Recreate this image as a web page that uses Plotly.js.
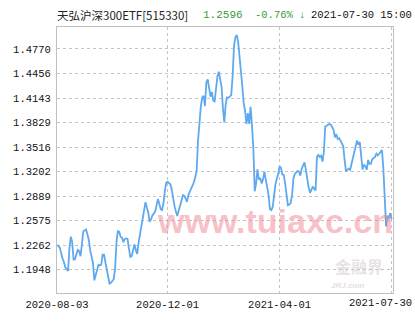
<!DOCTYPE html>
<html>
<head>
<meta charset="utf-8">
<script src="https://cdn.plot.ly/plotly-3.0.1.min.js"></script>
<style>
  html, body { margin: 0; padding: 0; background: #fff; }
  #chart { width: 415px; height: 330px; }
</style>
</head>
<body>
<div id="chart"></div>
<script>
// Fund name and quote header
const fundName = '天弘沪深300ETF[515330]';
const lastPrice = '1.2596';
const changePct = '-0.76% ↓';
const quoteTime = '2021-07-30 15:00';

// Daily closing prices (trading days 2020-08-03 .. 2021-07-30)
const prices = [
  1.2260,1.2252,1.2230,1.2140,1.2090,1.2045,1.1977,1.1955,1.1930,1.2220,
  1.2370,1.2300,1.2075,1.2080,1.2140,1.2200,1.2185,1.2120,1.2270,1.2435,
  1.2450,1.2461,1.2400,1.2330,1.2190,1.2090,1.2040,1.1811,1.1880,1.1935,
  1.2010,1.2000,1.2010,1.2140,1.2140,1.2040,1.1948,1.1860,1.1770,1.1780,
  1.1800,1.1825,1.1960,1.2300,1.2440,1.2430,1.2370,1.2355,1.2300,1.2340,
  1.2346,1.2340,1.2220,1.2110,1.2120,1.2190,1.2270,1.2200,1.2150,1.2290,
  1.2400,1.2500,1.2602,1.2750,1.2810,1.2740,1.2680,1.2560,1.2590,1.2640,
  1.2660,1.2690,1.2770,1.2850,1.2790,1.2720,1.2710,1.2800,1.2950,1.3060,
  1.3070,1.3055,1.3040,1.2970,1.2850,1.2760,1.2690,1.2635,1.2700,1.2751,
  1.2830,1.2901,1.2890,1.2860,1.2815,1.2901,1.2940,1.2985,1.3020,1.3065,
  1.3130,1.3215,1.3600,1.3890,1.4030,1.4150,1.4170,1.4040,1.4340,1.4380,
  1.4260,1.4160,1.4220,1.4110,1.4100,1.4290,1.4420,1.4480,1.4370,1.4290,
  1.4010,1.3830,1.4060,1.4150,1.4145,1.4160,1.4180,1.4420,1.4800,1.4920,
  1.4950,1.4860,1.4633,1.4480,1.4300,1.4080,1.3980,1.3810,1.3949,1.3812,
  1.4030,1.3800,1.3500,1.2950,1.3050,1.3230,1.3100,1.3120,1.3050,1.3100,
  1.3200,1.3100,1.3010,1.2900,1.2720,1.2709,1.2750,1.2930,1.3040,1.3115,
  1.3170,1.3270,1.3250,1.3165,1.3158,1.3050,1.2880,1.2770,1.2780,1.2798,
  1.2900,1.3115,1.3170,1.3190,1.3210,1.3200,1.3150,1.3240,1.3290,1.3320,
  1.3220,1.3080,1.3000,1.2930,1.2980,1.3010,1.2980,1.2960,1.3390,1.3414,
  1.3390,1.3405,1.3330,1.3450,1.3777,1.3785,1.3795,1.3810,1.3805,1.3770,
  1.3735,1.3640,1.3680,1.3620,1.3630,1.3600,1.3560,1.3525,1.3350,1.3205,
  1.3225,1.3240,1.3225,1.3300,1.3400,1.3480,1.3550,1.3600,1.3545,1.3580,
  1.3400,1.3230,1.3290,1.3270,1.3225,1.3350,1.3300,1.3300,1.3360,1.3375,
  1.3390,1.3430,1.3410,1.3430,1.3460,1.3478,1.3250,1.2950,1.2500,1.2640,
  1.2600,1.2670,1.2596
];

// X-axis date labels and the trading-day index they belong to
const dateLabels = ['2020-08-03', '2020-12-01', '2021-04-01', '2021-07-30'];
const dateIndex = [0, 80, 161, 242];

// Y-axis tick values
const yTicks = [1.1948, 1.2262, 1.2575, 1.2889, 1.3202, 1.3516, 1.3829, 1.4143, 1.4456, 1.4770];
const yRange = [1.1649, 1.5051];

const dayIdx = prices.map((_, i) => i);
const lastK = dateLabels.length - 1;
// the last date label is drawn right-aligned at the edge (as in the source chart)
const xText = dateLabels.map((t, k) => k === lastK ? '' : t);

const monoFont = 'Liberation Mono, DejaVu Sans Mono, monospace';

const trace = {
  x: dayIdx,
  y: prices,
  type: 'scatter',
  mode: 'lines',
  line: { color: '#5fa9ee', width: 1.8, shape: 'linear' },
  hoverinfo: 'skip'
};

const layout = {
  width: 415,
  height: 330,
  margin: { l: 57, r: 22, t: 27, b: 37, pad: 0 },
  paper_bgcolor: '#ffffff',
  plot_bgcolor: '#ffffff',
  showlegend: false,
  xaxis: {
    range: [0, 243],
    tickmode: 'array',
    tickvals: dateIndex,
    ticktext: xText,
    ticks: '',
    showgrid: true,
    gridcolor: '#c4c4c4',
    griddash: '3px,3px',
    gridwidth: 1,
    zeroline: false,
    showline: true,
    linecolor: '#c0c0c0',
    linewidth: 1,
    mirror: true,
    tickfont: { family: monoFont, size: 10.5, color: '#111' },
    ticklabelstandoff: 1
  },
  yaxis: {
    range: yRange,
    tickmode: 'array',
    tickvals: yTicks,
    ticktext: yTicks.map(v => v.toFixed(4)),
    ticks: '',
    showgrid: true,
    gridcolor: '#c4c4c4',
    griddash: '3px,3px',
    gridwidth: 1,
    zeroline: false,
    showline: true,
    linecolor: '#c0c0c0',
    linewidth: 1,
    mirror: true,
    tickfont: { family: monoFont, size: 10.5, color: '#111' },
    ticklabelstandoff: 3
  },
  annotations: [
    { xref: 'x', yref: 'paper', x: dateIndex[lastK], y: -0.036, xanchor: 'right', yanchor: 'middle',
      xshift: 22, text: dateLabels[lastK], showarrow: false,
      font: { family: monoFont, size: 10.5, color: '#111' } },
    { xref: 'paper', yref: 'paper', x: -0.006, y: 1.046, xanchor: 'left', yanchor: 'middle',
      text: fundName, showarrow: false,
      font: { family: 'Noto Sans CJK SC, sans-serif', size: 11.5, color: '#222' } },
    { xref: 'paper', yref: 'paper', x: 0.43, y: 1.046, xanchor: 'left', yanchor: 'middle',
      text: lastPrice, showarrow: false,
      font: { family: monoFont, size: 11, color: '#3a9a3a' } },
    { xref: 'paper', yref: 'paper', x: 0.583, y: 1.046, xanchor: 'left', yanchor: 'middle',
      text: changePct, showarrow: false,
      font: { family: monoFont, size: 10.5, color: '#3a9a3a' } },
    { xref: 'paper', yref: 'paper', x: 1.062, y: 1.046, xanchor: 'right', yanchor: 'middle',
      text: quoteTime, showarrow: false,
      font: { family: monoFont, size: 10.5, color: '#111' } },
    { xref: 'paper', yref: 'paper', x: 0.649, y: 0.27, xanchor: 'center', yanchor: 'middle',
      text: '<b>www.tuiaxc.cn</b>', showarrow: false,
      font: { family: 'Liberation Sans, Arial, sans-serif', size: 34, color: 'rgba(240,140,150,0.55)' } },
    { xref: 'paper', yref: 'paper', x: 0.899, y: 0.1, xanchor: 'center', yanchor: 'middle',
      text: '<b>金融界</b>', showarrow: false,
      font: { family: 'Noto Sans CJK SC, sans-serif', size: 16, color: 'rgba(205,190,190,0.45)' } },
    { xref: 'paper', yref: 'paper', x: 0.866, y: 0.028, xanchor: 'center', yanchor: 'middle',
      text: '<b><i>JRJ.com</i></b>', showarrow: false,
      font: { family: 'Liberation Sans, Arial, sans-serif', size: 8, color: 'rgba(205,190,190,0.5)' } }
  ]
};

Plotly.newPlot('chart', [trace], layout, { staticPlot: true, displayModeBar: false });
</script>
</body>
</html>
